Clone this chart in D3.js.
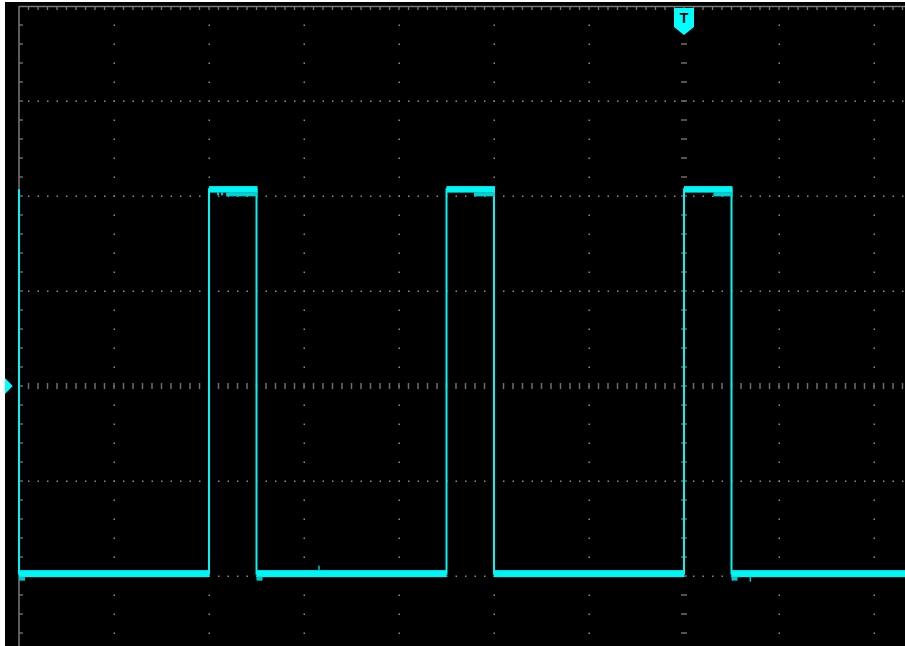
<!DOCTYPE html>
<html><head><meta charset="utf-8">
<script src="https://cdn.jsdelivr.net/npm/d3@7/dist/d3.min.js"></script>
<style>html,body{margin:0;padding:0;background:#fff;overflow:hidden}svg{display:block}</style>
</head><body><svg id="c" width="905" height="646"></svg>
<script>
// ---- data (time and level in graticule divisions) ----
const traceTime  = [0, 0, 2.0, 2.0, 2.5, 2.5, 4.5, 4.5, 5.0, 5.0, 7.0, 7.0, 7.5, 7.5, 9.4];
const traceLevel = [2.07, -1.975, -1.975, 2.07, 2.07, -1.975, -1.975, 2.07, 2.07, -1.975, -1.975, 2.07, 2.07, -1.975, -1.975];
const shelfStart = [2.18, 4.79, 7.31];   // partial lower shelf on the high level
const shelfEnd   = [2.5, 5.0, 7.5];
const lowGlitchTimes = [0, 2.5, 7.5];    // small blobs just under the low level
const spikeTimes = [3.15, 7.69];
const spikeDir   = [1, -1];
const notchTimes = [2.085, 2.127];       // small notches under first pulse top
const triggerTime = 7.0;
const groundLevel = 0;
const timeDivs  = d3.range(0, 15);
const levelDivs = d3.range(-4, 5);

// ---- layout ----
const W = 905, H = 646;
const svg = d3.select('#c');
const x = d3.scaleLinear().domain([0, 14]).range([19, 19 + 14 * 95]);
const y = d3.scaleLinear().domain([-4, 4]).range([6 + 8 * 95, 6]);

svg.append('rect').attr('width', W).attr('height', H).attr('fill', '#fff');
svg.append('rect').attr('x', 5).attr('y', 2).attr('width', W - 5).attr('height', H - 2).attr('fill', '#000');

const g = svg.append('g');
const grey = '#7a7a7a';

// dotted horizontal grid lines
levelDivs.filter(v => v !== 0 && v !== 4 && y(v) < H).forEach(v => {
  const pts = d3.range(0.1, 9.45, 0.1).map(t => x(t)).filter(px => px < W);
  g.selectAll(null).data(pts).enter().append('rect')
    .attr('x', d => d - 0.5).attr('y', y(v) - 0.5).attr('width', 1.5).attr('height', 1.5).attr('fill', '#8c8c8c');
});
// dotted vertical grid lines
timeDivs.filter(t => t !== 0 && t !== triggerTime && x(t) < W).forEach(t => {
  const pts = d3.range(-3.8, 4.0, 0.2).map(v => y(v)).filter(py => py < H);
  g.selectAll(null).data(pts).enter().append('rect')
    .attr('x', x(t) - 0.5).attr('y', d => d - 0.5).attr('width', 1.5).attr('height', 1.5).attr('fill', '#8c8c8c');
});
// centre horizontal axis (vertical dashes)
g.selectAll(null).data(d3.range(0.1, 9.45, 0.1).map(t => x(t)).filter(px => px < W)).enter().append('rect')
  .attr('x', d => d - 0.75).attr('y', y(groundLevel) - 3).attr('width', 1.5).attr('height', 6).attr('fill', '#6e6e6e');
// centre vertical axis (horizontal dashes)
g.selectAll(null).data(d3.range(-3.8, 4.0, 0.2).map(v => y(v)).filter(py => py < H)).enter().append('rect')
  .attr('x', x(triggerTime) - 3).attr('y', d => d - 0.75).attr('width', 6).attr('height', 1.5).attr('fill', '#6e6e6e');

// top border with ticks
g.append('line').attr('x1', x(0)).attr('x2', W).attr('y1', y(4) + 0.5).attr('y2', y(4) + 0.5)
  .attr('stroke', grey).attr('stroke-width', 1.5);
g.selectAll(null).data(d3.range(0.1, 9.45, 0.1).map(t => x(t)).filter(px => px < W)).enter().append('line')
  .attr('x1', d => d).attr('x2', d => d).attr('y1', y(4)).attr('y2', y(4) + 4)
  .attr('stroke', grey).attr('stroke-width', 1.3);
// left border with ticks
g.append('line').attr('x1', x(0)).attr('x2', x(0)).attr('y1', y(4)).attr('y2', H)
  .attr('stroke', grey).attr('stroke-width', 1.5);
g.selectAll(null).data(d3.range(-3.8, 4.0, 0.2).map(v => y(v)).filter(py => py < H)).enter().append('line')
  .attr('x1', x(0)).attr('x2', x(0) + 4).attr('y1', d => d).attr('y2', d => d)
  .attr('stroke', grey).attr('stroke-width', 1.3);

// ---- trace ----
const cyan = '#00f5f5';
const tr = svg.append('g');
const pts = traceTime.map((t, i) => [t, traceLevel[i]]);
// horizontal thick bands
for (let i = 0; i < pts.length - 1; i++) {
  const a = pts[i], b = pts[i + 1];
  if (a[1] === b[1] && a[0] !== b[0]) {
    const high = a[1] > 0;
    const th = high ? 6.5 : 7;
    tr.append('rect').attr('x', x(a[0])).attr('width', Math.min(x(b[0]), W) - x(a[0]) + (high ? 1 : 0))
      .attr('y', y(a[1]) - th / 2).attr('height', th).attr('fill', cyan);
  }
}
// step path (edges)
tr.append('path').datum(pts)
  .attr('d', d3.line().x(d => x(d[0])).y(d => y(d[1])))
  .attr('fill', 'none').attr('stroke', cyan).attr('stroke-width', 2);
// partial lower shelves on highs
shelfStart.forEach((s, i) => {
  tr.append('rect').attr('x', x(s)).attr('width', x(shelfEnd[i]) - x(s) + 1)
    .attr('y', y(2.07) + 3).attr('height', 4).attr('fill', '#00d2d2');
});
notchTimes.forEach(t => {
  tr.append('rect').attr('x', x(t)).attr('width', 2)
    .attr('y', y(2.07) + 3).attr('height', 3).attr('fill', '#00d2d2');
});
// blobs under low level
lowGlitchTimes.forEach(t => {
  tr.append('rect').attr('x', x(t)).attr('width', 6)
    .attr('y', y(-1.975) + 3).attr('height', 4).attr('fill', '#00c8c8');
});
spikeTimes.forEach((t, i) => {
  tr.append('rect').attr('x', x(t)).attr('width', 1.5)
    .attr('y', spikeDir[i] > 0 ? y(-1.975) - 8 : y(-1.975) + 3).attr('height', 5).attr('fill', '#00c8c8');
});

// ---- markers ----
const tx = x(triggerTime);
svg.append('path')
  .attr('d', `M${tx - 10},8 H${tx + 10} V27 L${tx},35 L${tx - 10},27 Z`)
  .attr('fill', '#00ffff');
svg.append('text').attr('x', tx).attr('y', 23).attr('text-anchor', 'middle')
  .attr('font-family', 'Liberation Sans, Arial, sans-serif').attr('font-weight', 'bold')
  .attr('font-size', 14).attr('fill', '#000').text('T');
const gy = y(groundLevel);
svg.append('path').attr('d', `M5,${gy - 8} L12.7,${gy} L5,${gy + 8} Z`).attr('fill', '#00ffff');
</script></body></html>
